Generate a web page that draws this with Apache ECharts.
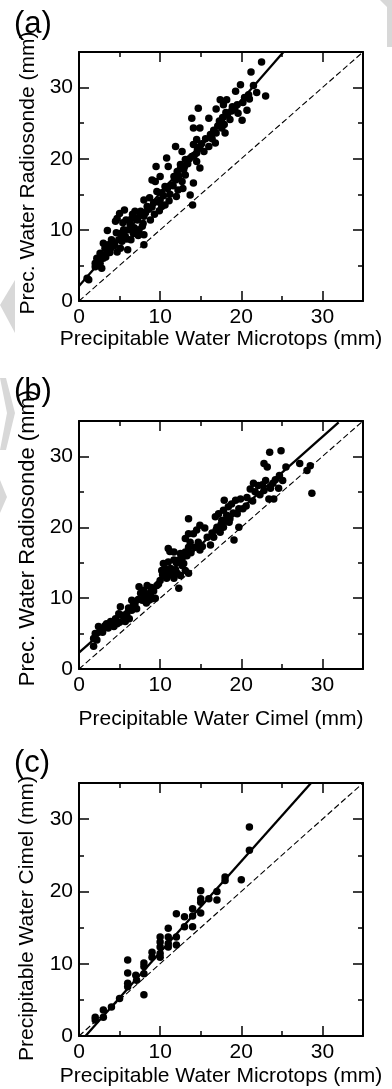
<!DOCTYPE html>
<html><head><meta charset="utf-8">
<script src="https://cdn.jsdelivr.net/npm/echarts@6/dist/echarts.min.js"></script>
<style>html,body{margin:0;padding:0;background:#fff}#c{width:392px;height:1089px}</style>
</head><body><div id="c"></div>
<script>
// ---------- DATA ----------
const pointsA = [
[22.5,33.6],[21.2,32.2],[23.0,28.8],[21.9,29.3],[20.9,29.0],[19.9,30.4],[19.3,29.5],[20.7,26.8],[20.1,25.4],[19.5,27.6],
[18.9,27.3],[18.2,28.3],[17.4,28.3],[17.8,27.6],[16.9,27.0],[18.3,26.2],[18.6,25.5],[17.9,24.8],[18.0,23.6],[17.6,24.3],
[16.9,23.6],[16.2,23.4],[16.8,22.2],[16.0,21.7],[16.0,25.7],[14.7,27.1],[13.9,25.7],[14.1,24.3],[14.9,24.3],[14.5,22.7],
[14.1,22.0],[14.9,21.7],[15.4,21.0],[14.5,20.8],[13.9,20.3],[14.5,19.6],[14.9,18.7],[14.1,16.6],[13.7,14.9],[14.0,13.5],
[11.9,21.7],[12.7,21.0],[13.1,19.9],[12.5,19.2],[12.9,18.5],[13.1,17.7],[12.1,18.2],[12.7,16.8],[10.8,20.1],[11.0,18.9],
[11.7,17.5],[11.3,16.3],[10.6,16.1],[12.0,14.7],[9.5,18.9],[10.0,17.5],[9.0,17.0],[9.4,16.8],[9.6,15.4],[10.2,15.2],
[10.0,14.2],[9.2,13.8],[10.6,13.5],[10.2,13.3],[8.7,14.5],[8.0,14.2],[8.4,13.3],[7.6,12.6],[6.9,12.6],[8.0,11.9],
[7.2,11.4],[6.5,11.6],[5.6,12.8],[5.0,12.3],[5.8,11.4],[4.7,11.6],[4.5,11.2],[7.8,10.5],[7.4,10.0],[8.0,9.3],
[6.7,9.5],[6.1,10.0],[5.5,10.0],[5.1,9.5],[5.7,9.1],[4.9,8.6],[4.3,8.1],[3.5,9.9],[3.0,8.1],[3.9,7.4],
[3.2,7.4],[5.1,7.4],[6.0,7.2],[4.7,6.9],[8.0,7.9],[3.4,6.7],[2.6,6.7],[3.0,6.0],[2.2,6.0],[2.0,5.3],
[2.6,5.3],[2.8,4.6],[2.0,4.8],[1.0,3.2],[1.2,3.0],[2.3,5.8],[3.3,6.2],[3.6,7.9],[4.0,8.6],[4.4,7.8],
[5.3,8.4],[5.9,8.7],[6.3,10.8],[6.8,10.3],[7.0,11.6],[7.5,12.0],[8.2,12.4],[8.6,12.9],[9.0,13.2],[9.8,13.9],
[10.4,14.8],[10.9,15.8],[11.2,15.0],[11.6,16.2],[11.9,17.0],[12.3,17.6],[12.5,18.6],[13.0,18.9],[13.4,19.3],[13.6,20.0],
[14.2,20.5],[14.6,21.3],[15.1,22.1],[15.6,22.8],[16.4,22.8],[16.6,24.0],[17.1,24.6],[17.3,25.3],[17.7,25.8],[18.1,26.5],
[18.8,26.7],[19.2,27.0],[19.6,26.4],[20.2,27.9],[20.4,28.6],[21.0,28.4],[21.5,30.3],[6.4,8.6],[7.3,9.2],[7.9,10.9],
[8.8,11.4],[9.3,12.2],[9.9,12.7],[11.1,14.1],[12.2,15.6],[12.8,15.8],[4.6,9.6],[3.8,6.8],[2.5,5.0],[5.4,11.0],[6.6,12.2]
];
const fitA = [[0,2.1],[25.2,35]];

const pointsB = [
[23.5,30.6],[24.9,30.8],[27.2,29.0],[28.5,28.7],[28.1,28.0],[28.7,24.8],[25.5,28.5],[24.7,27.3],[24.6,25.5],[23.6,25.5],
[22.8,29.0],[23.2,28.5],[23.0,26.6],[22.8,25.2],[23.4,24.0],[24.0,24.0],[22.1,25.9],[21.5,26.2],[21.1,25.4],[21.7,25.0],
[20.7,24.2],[19.9,24.0],[19.3,23.8],[19.7,22.6],[18.8,23.3],[17.9,23.8],[18.4,22.9],[17.8,22.4],[17.2,21.9],[16.8,21.5],
[18.2,21.7],[18.6,21.2],[19.5,21.9],[19.7,20.0],[19.1,18.2],[17.6,21.0],[17.0,20.0],[17.8,20.0],[17.4,19.3],[16.6,18.6],
[16.2,17.5],[14.9,20.3],[14.5,19.6],[14.1,19.1],[13.5,21.2],[13.5,19.1],[13.1,18.4],[13.7,17.9],[14.7,17.9],[14.9,16.8],
[13.5,17.2],[13.1,16.5],[12.5,16.3],[11.7,16.5],[11.0,17.0],[12.3,15.4],[11.7,15.4],[11.0,15.1],[10.4,14.9],[10.6,14.2],
[11.3,14.2],[12.7,14.6],[13.1,13.9],[13.5,13.5],[12.5,13.2],[12.1,13.5],[11.7,12.8],[12.3,11.4],[10.8,12.8],[10.0,12.5],
[9.6,11.8],[9.4,10.0],[8.8,10.7],[8.4,11.8],[8.0,11.1],[7.4,11.6],[7.6,10.7],[8.6,9.7],[7.8,9.7],[6.9,9.2],
[6.5,9.7],[7.1,8.5],[6.5,8.3],[5.9,7.8],[5.1,8.8],[4.9,7.8],[5.5,7.4],[5.7,6.7],[4.5,7.1],[3.9,6.7],
[3.4,6.4],[4.3,6.0],[3.0,5.7],[2.4,6.0],[2.6,5.3],[2.0,5.0],[1.8,4.3],[2.2,4.1],[1.8,3.2],[2.9,5.2],
[3.6,5.8],[4.1,6.5],[4.7,6.4],[5.3,7.6],[6.1,8.6],[6.7,9.0],[7.3,9.8],[8.2,10.4],[8.9,11.5],[9.2,11.0],
[9.8,12.0],[10.3,13.3],[10.9,13.8],[11.4,13.3],[11.9,14.0],[12.0,15.0],[12.6,15.7],[12.9,14.9],[13.3,16.0],[13.8,16.4],
[14.3,17.2],[15.2,17.3],[15.8,18.6],[16.4,19.2],[16.9,19.6],[17.5,20.4],[18.0,20.9],[18.5,20.7],[19.0,22.0],[20.2,22.6],
[20.6,23.0],[21.4,23.7],[22.3,24.6],[22.6,26.0],[23.9,26.2],[24.2,26.7],[25.1,26.6],[11.2,16.6],[10.2,13.9],[8.3,9.3],
[6.2,7.1],[5.0,6.6],[15.5,19.9],[9.0,9.9],[3.2,6.1]
];
const fitB = [[0,2.3],[32,34.8]];

const pointsC = [
[2.0,2.2],[2.0,2.6],[3.0,2.6],[3.0,3.6],[4.0,4.0],[5.0,5.2],[6.0,7.3],[6.0,6.8],[6.0,8.7],[6.0,10.5],
[7.0,8.4],[7.1,7.7],[8.0,5.7],[8.0,9.6],[8.0,10.1],[8.0,8.6],[9.0,11.6],[9.0,10.9],[10.0,13.7],[10.0,13.0],
[10.0,12.3],[10.0,11.4],[10.0,10.9],[11.0,14.9],[11.0,13.7],[11.0,12.8],[11.0,12.3],[12.0,16.9],[12.0,13.7],[12.0,12.6],
[13.0,16.5],[13.0,15.1],[14.0,17.6],[14.0,15.1],[14.0,16.6],[15.0,20.1],[15.0,19.0],[15.0,17.0],[15.0,18.5],[16.0,19.0],
[17.0,18.8],[17.0,20.0],[18.0,22.0],[18.0,21.5],[20.0,21.6],[21.0,28.9],[21.0,25.7]
];
const fitC = [[0.8,0],[28.6,35]];

const oneToOne = [[0,0],[35,35]];
const axisMin = 0, axisMax = 35, majorStep = 10, minorStep = 5;
const xTitles = ['Precipitable Water Microtops (mm)','Precipitable Water Cimel (mm)','Precipitable Water Microtops (mm)'];
const yTitles = ['Prec. Water Radiosonde (mm)','Prec. Water Radiosonde (mm)','Precipitable Water Cimel (mm)'];
const panelLabels = ['(a)','(b)','(c)'];

// ---------- CHART ----------
const FONT = '"Liberation Sans", Arial, Helvetica, sans-serif';
const grids = [
  {left:79, top:52, width:284, height:249},
  {left:79, top:421, width:284, height:248},
  {left:79, top:783, width:284, height:253}
];
const labelTops = [9, 376, 748];
const xNameGaps = [26, 40, 30];
const yNameGaps = [37, 37, 41];
const yNameSizes = [21, 22, 21];
const yNamePads = [[0,0,0,7],[0,0,0,14],[0,18,0,0]];

function axis(gi, position, major, labels, name, nameGap, namePad, nameSize){
  const a = {
    type:'value', gridIndex:gi, position, min:axisMin, max:axisMax,
    interval: major ? majorStep : minorStep,
    axisLine:{show:major, onZero:false, lineStyle:{color:'#000', width:2}},
    axisTick:{show:true, inside:true, length: major?10:5, lineStyle:{color:'#000', width:1.5}},
    axisLabel:{show:labels, color:'#000', fontSize:21, fontFamily:FONT, margin:6, showMaxLabel:false},
    splitLine:{show:false},
    silent:true
  };
  if (name){
    a.name = name; a.nameLocation = 'middle'; a.nameGap = nameGap;
    a.nameTextStyle = {color:'#000', fontSize:nameSize || 21, fontFamily:FONT, padding: namePad || 0};
  }
  return a;
}

const xAxes = [], yAxes = [], series = [];
const allPoints = [pointsA, pointsB, pointsC];
const fits = [fitA, fitB, fitC];
for (let g=0; g<3; g++){
  xAxes.push(axis(g,'bottom',true,true,xTitles[g], xNameGaps[g]));
  xAxes.push(axis(g,'bottom',false,false));
  xAxes.push(axis(g,'top',true,false));
  xAxes.push(axis(g,'top',false,false));
  yAxes.push(axis(g,'left',true,true,yTitles[g], yNameGaps[g], yNamePads[g], yNameSizes[g]));
  yAxes.push(axis(g,'left',false,false));
  yAxes.push(axis(g,'right',true,false));
  yAxes.push(axis(g,'right',false,false));
  const xi = g*4, yi = g*4;
  series.push({type:'line', xAxisIndex:xi, yAxisIndex:yi, data:oneToOne, symbol:'none',
    lineStyle:{color:'#000', width:1.1, type:[6,3]}, silent:true, z:2});
  series.push({type:'line', xAxisIndex:xi, yAxisIndex:yi, data:fits[g], symbol:'none',
    lineStyle:{color:'#000', width:2.3}, silent:true, z:3});
  series.push({type:'scatter', xAxisIndex:xi, yAxisIndex:yi, data:allPoints[g], symbol:'circle',
    symbolSize:7.5, itemStyle:{color:'#000', opacity:1}, silent:true, z:4});
}

const graphic = panelLabels.map((t,i)=>({type:'text', left:14, top:labelTops[i],
  style:{text:t, fill:'#000', font:'31px ' + FONT}}));
const wm = '#d8d8d8';
graphic.push({type:'polygon', z:-10, shape:{points:[[380,0],[392,0],[392,47],[387,47],[387,7]]}, style:{fill:wm}});
graphic.push({type:'polygon', z:-10, shape:{points:[[15,280],[0,305],[15,333]]}, style:{fill:wm}});
graphic.push({type:'polygon', z:-10, shape:{points:[[0,378],[6,378],[15,413],[6,450],[0,450],[7,413]]}, style:{fill:wm}});
graphic.push({type:'polygon', z:-10, shape:{points:[[0,480],[7,497],[0,513]]}, style:{fill:wm}});

const chart = echarts.init(document.getElementById('c'), null, {renderer:'canvas'});
chart.setOption({
  animation:false,
  backgroundColor:'#fff',
  grid: grids,
  xAxis: xAxes,
  yAxis: yAxes,
  series,
  graphic
});
</script>
</body></html>
